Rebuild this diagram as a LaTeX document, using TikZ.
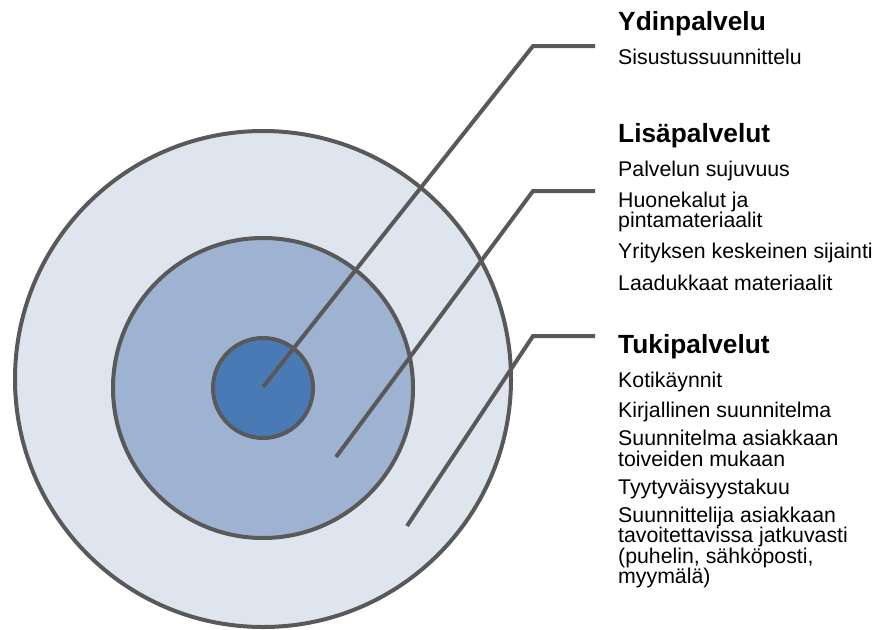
\documentclass[tikz,border=0pt]{standalone}
\usepackage{fontspec}
\setmainfont{Liberation Sans}
\definecolor{ringout}{RGB}{223,229,239}
\definecolor{ringmid}{RGB}{158,179,209}
\definecolor{ringcore}{RGB}{74,122,181}
\definecolor{edgegray}{RGB}{89,89,89}
\begin{document}
\begin{tikzpicture}[x=1pt,y=-1pt,
  ring/.style={circle,draw=edgegray,line width=4pt,inner sep=0pt},
  leader/.style={draw=edgegray,line width=4pt,line join=miter},
  heading/.style={anchor=base west,inner sep=0pt,font=\fontsize{26.3}{26.3}\selectfont\bfseries},
  entry/.style={anchor=base west,inner sep=0pt,font=\fontsize{21.3}{21.3}\selectfont}]
\useasboundingbox (0,0) rectangle (877,629);

% concentric service layers
\node[ring,fill=ringout,minimum size=496pt] (outer) at (263,379) {};
\node[ring,fill=ringmid,minimum size=300pt] (middle) at (263,388) {};
\node[ring,fill=ringcore,minimum size=100pt] (core) at (263,388) {};

% leader line anchor points
\coordinate (p1) at (263,387);
\coordinate (k1) at (533,46);
\coordinate (e1) at (595,46);
\coordinate (p2) at (336,457);
\coordinate (k2) at (533,191);
\coordinate (e2) at (595,191);
\coordinate (p3) at (407,526);
\coordinate (k3) at (533,336);
\coordinate (e3) at (595,336);

\draw[leader] (p1) -- (k1) -- (e1);
\draw[leader] (p2) -- (k2) -- (e2);
\draw[leader] (p3) -- (k3) -- (e3);

% core service
\node[heading] (h1) at (618,30) {Ydinpalvelu};
\node[entry] (a1) at (618,64) {Sisustussuunnittelu};

% additional services
\node[heading] (h2) at (618,142) {Lisäpalvelut};
\node[entry] (b1) at (618,176) {Palvelun sujuvuus};
\node[entry] (b2) at (618,207) {Huonekalut ja};
\node[entry] (b2b) at (618,227) {pintamateriaalit};
\node[entry] (b3) at (618,258) {Yrityksen keskeinen sijainti};
\node[entry] (b4) at (618,290) {Laadukkaat materiaalit};

% supporting services
\node[heading] (h3) at (618,353) {Tukipalvelut};
\node[entry] (c1) at (618,387) {Kotikäynnit};
\node[entry] (c2) at (618,417) {Kirjallinen suunnitelma};
\node[entry] (c3) at (618,445) {Suunnitelma asiakkaan};
\node[entry] (c3b) at (618,466) {toiveiden mukaan};
\node[entry] (c4) at (618,494) {Tyytyväisyystakuu};
\node[entry] (c5) at (618,522) {Suunnittelija asiakkaan};
\node[entry] (c5b) at (618,542) {tavoitettavissa jatkuvasti};
\node[entry] (c5c) at (618,563) {(puhelin, sähköposti,};
\node[entry] (c5d) at (618,583) {myymälä)};
\end{tikzpicture}
\end{document}
